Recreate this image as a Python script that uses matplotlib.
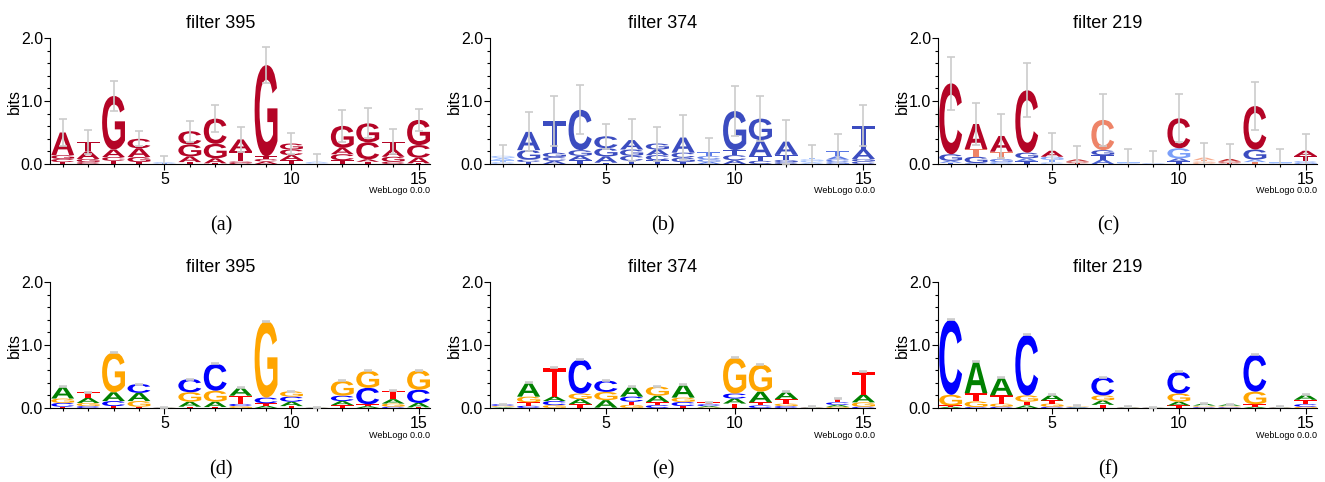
import numpy as np
import matplotlib.pyplot as plt
from matplotlib.textpath import TextPath
from matplotlib.patches import PathPatch
from matplotlib.font_manager import FontProperties
from matplotlib.transforms import Affine2D
from matplotlib import colormaps

positions = np.arange(1, 16)
letters = ['A', 'C', 'G', 'T']

# filter 395, top logo (a)
a_A = [.36, .12, .12, .14, .010, .09, .08, .19, .04, .08, .012, .10, .04, .115, .09]
a_C = [.05, .03, .06, .15, .010, .21, .40, .02, .04, .09, .010, .095, .27, .035, .20]
a_G = [.06, .05, .85, .08, .006, .19, .23, .02, 1.45, .095, .008, .35, .30, .08, .40]
a_T = [.03, .15, .05, .03, .006, .03, .01, .16, .04, .06, .006, .06, .035, .125, .01]
a_err = [.22, .19, .24, .12, .09, .17, .21, .20, .28, .16, .13, .25, .24, .20, .18]
a_col = [1.0, 1.0, 1.0, 1.0, .25, 1.0, 1.0, 1.0, 1.0, 1.0, .25, 1.0, 1.0, 1.0, 1.0]

# filter 374, top logo (b)
b_A = [.035, .29, .05, .07, .10, .15, .09, .24, .035, .06, .26, .21, .025, .05, .15]
b_C = [.030, .04, .06, .64, .19, .08, .08, .08, .050, .08, .05, .03, .025, .04, .04]
b_G = [.035, .15, .07, .09, .13, .10, .095, .07, .040, .62, .34, .035, .025, .03, .04]
b_T = [.030, .03, .50, .06, .02, .05, .06, .03, .060, .08, .07, .08, .025, .09, .38]
b_err = [.17, .31, .40, .39, .20, .34, .27, .36, .22, .40, .36, .35, .20, .26, .32]
b_col = [.3, 0.0, 0.0, 0.0, 0.0, 0.0, 0.0, 0.0, .12, 0.0, 0.0, 0.0, .3, .1, 0.0]

# filter 219, top logo (c)
c_A = [.03, .40, .25, .05, .095, .03, .07, .006, .005, .05, .04, .04, .04, .006, .085]
c_C = [1.125, .015, .03, .99, .025, .015, .48, .006, .005, .475, .02, .015, .69, .006, .025]
c_G = [.105, .10, .05, .09, .05, .015, .08, .006, .005, .16, .02, .015, .16, .006, .02]
c_T = [.02, .12, .115, .04, .04, .012, .07, .006, .005, .04, .02, .01, .03, .006, .08]
c_err = [.42, .33, .35, .43, .28, .21, .41, .21, .19, .38, .23, .23, .38, .21, .27]
c_colA = [.1, 1.0, 1.0, .1, 1.0, .95, .05, .3, .25, .05, .7, .95, .2, .3, 1.0]
c_colC = [1.0, .1, .2, 1.0, .3, .95, .8, .3, .25, 1.0, .7, .95, 1.0, .3, .2]
c_colG = [0.0, 0.0, .1, 0.0, .2, .95, 0.0, .3, .25, .2, .7, .95, 0.0, .3, .2]
c_colT = [.05, .8, .8, 0.0, .2, .95, 0.0, .3, .25, 0.0, .7, .95, .8, .3, 1.0]

# filter 395, bottom logo (d)
d_A = [.19, .08, .14, .13, .003, .08, .085, .135, .035, .07, .003, .065, .03, .07, .07]
d_C = [.06, .03, .08, .14, .003, .21, .425, .035, .09, .08, .003, .085, .26, .02, .21]
d_G = [.07, .05, .63, .09, .003, .15, .175, .03, 1.215, .085, .003, .235, .27, .05, .31]
d_T = [.02, .09, .03, .02, .003, .02, .015, .13, .04, .03, .003, .045, .03, .13, .01]

# filter 374, bottom logo (e)
e_A = [.01, .23, .07, .08, .12, .165, .10, .215, .02, .08, .17, .12, .005, .03, .12]
e_C = [.025, .035, .065, .54, .18, .08, .045, .065, .03, .08, .04, .03, .005, .04, .02]
e_G = [.015, .09, .045, .09, .13, .05, .145, .07, .01, .57, .43, .04, .005, .02, .07]
e_T = [.01, .055, .46, .06, .005, .05, .05, .03, .03, .07, .05, .07, .005, .06, .365]

# filter 219, bottom logo (f)
f_A = [.02, .50, .29, .04, .09, .008, .07, .005, .003, .06, .03, .025, .02, .005, .08]
f_C = [1.19, .015, .02, .96, .02, .008, .29, .005, .003, .345, .013, .012, .59, .005, .04]
f_G = [.17, .09, .05, .10, .05, .008, .08, .005, .003, .13, .013, .012, .20, .005, .02]
f_T = [.02, .13, .13, .06, .05, .008, .05, .005, .003, .04, .013, .012, .04, .005, .07]

titles = ['filter 395', 'filter 374', 'filter 219']
captions = ['(a)', '(b)', '(c)', '(d)', '(e)', '(f)']
classic = {'A': '#008000', 'C': '#0000ff', 'G': '#ffa500', 'T': '#ff0000'}
cmap = colormaps['coolwarm']
letter_font = FontProperties(family='Liberation Sans', weight='bold')
glyphs = {l: TextPath((0, 0), l, size=1, prop=letter_font) for l in letters}


def cw(vals):
    return [cmap(float(v)) for v in vals]


def draw_letter(ax, letter, x, y, h, color, width=0.9):
    path = glyphs[letter]
    ext = path.get_extents()
    tr = (Affine2D().translate(-ext.x0, -ext.y0)
          .scale(width / ext.width, h / ext.height)
          .translate(x - width / 2, y))
    ax.add_patch(PathPatch(tr.transform_path(path), facecolor=color,
                           edgecolor='none', lw=0))


def draw_logo(ax, heights, colors, err):
    tops = []
    for i, x in enumerate(positions):
        col = [(l, heights[l][i], colors[l][i]) for l in letters]
        col.sort(key=lambda t: t[1])
        y = 0
        for l, h, c in col:
            if h > 0.002:
                draw_letter(ax, l, x, y, h, c)
            y += h
        tops.append(y)
    ax.errorbar(positions, tops, yerr=err, fmt='none', ecolor='#cccccc',
                elinewidth=1.2, capsize=3, capthick=1.2, zorder=5)


fig = plt.figure(figsize=(13.25, 4.82), dpi=100)
W, H = 1325, 482
lefts = [50, 490, 938]
rights = [430, 875, 1317]
rows = [(38, 164), (282, 408)]
title_x = [221, 663, 1108]

top_sets = [
    ({'A': a_A, 'C': a_C, 'G': a_G, 'T': a_T},
     {l: cw(a_col) for l in letters}, a_err),
    ({'A': b_A, 'C': b_C, 'G': b_G, 'T': b_T},
     {l: cw(b_col) for l in letters}, b_err),
    ({'A': c_A, 'C': c_C, 'G': c_G, 'T': c_T},
     {'A': cw(c_colA), 'C': cw(c_colC), 'G': cw(c_colG), 'T': cw(c_colT)}, c_err),
]
bottom_sets = [
    {'A': d_A, 'C': d_C, 'G': d_G, 'T': d_T},
    {'A': e_A, 'C': e_C, 'G': e_G, 'T': e_T},
    {'A': f_A, 'C': f_C, 'G': f_G, 'T': f_T},
]

for r, (ytop, ybot) in enumerate(rows):
    for k in range(3):
        width = rights[k] - lefts[k]
        ax = fig.add_axes([lefts[k] / W, 1 - ybot / H, width / W, (ybot - ytop) / H])
        if r == 0:
            heights, colors, err = top_sets[k]
        else:
            heights = bottom_sets[k]
            colors = {l: [classic[l]] * 15 for l in letters}
            err = [0.008] * 15
        draw_logo(ax, heights, colors, err)
        ax.set_xlim(0.5, 15.45)
        ax.set_ylim(0, 2)
        for s in ['top', 'right']:
            ax.spines[s].set_visible(False)
        ax.set_yticks([0, 1, 2])
        ax.set_yticklabels(['0.0', '1.0', '2.0'])
        ax.set_yticks(np.arange(0, 2.01, 0.2), minor=True)
        ax.set_xticks([5, 10, 15])
        ax.set_xticks(positions, minor=True)
        ax.tick_params(which='major', length=4, width=0.8, labelsize=11.5, pad=1)
        ax.tick_params(axis='x', which='major', pad=2)
        ax.tick_params(which='minor', length=2.5, width=0.8)
        ax.set_ylabel('bits', fontsize=11.5, family='Liberation Sans', va='center')
        ax.yaxis.set_label_coords(-36 / width, 0.5)
        for lab in ax.get_xticklabels() + ax.get_yticklabels():
            lab.set_family('Liberation Sans')
        fig.text(title_x[k] / W, 1 - (ytop - 15) / H, titles[k], ha='center', va='center',
                 fontsize=13, family='Liberation Sans')
        fig.text(rights[k] / W, 1 - (ybot + 27) / H, 'WebLogo 0.0.0', ha='right',
                 va='center', fontsize=6.5, family='Liberation Sans')
        fig.text(title_x[k] / W, 1 - (ybot + 62) / H, captions[r * 3 + k], ha='center',
                 va='center', fontsize=14.5, family='Liberation Serif')

fig.savefig('out.png', dpi=100)
